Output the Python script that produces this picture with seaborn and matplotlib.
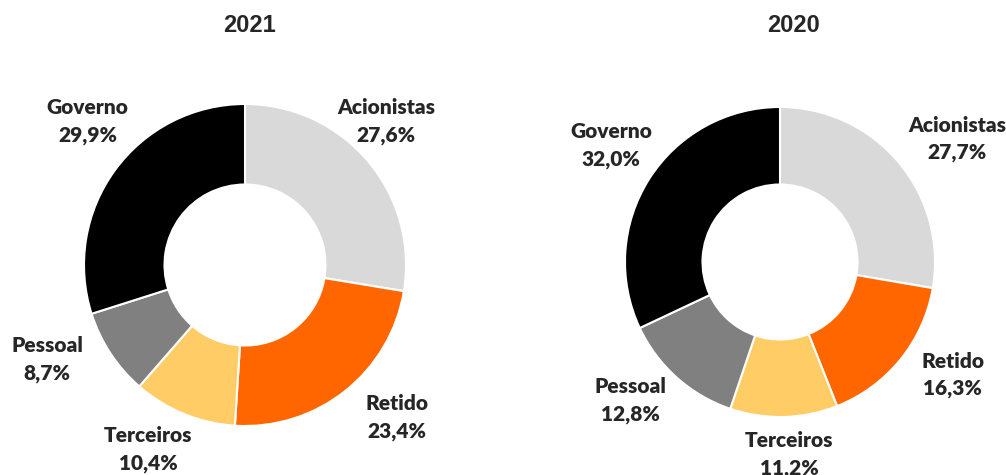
import matplotlib
matplotlib.use("Agg")
import matplotlib.pyplot as plt
import numpy as np
import seaborn as sns

categories = ["Acionistas", "Retido", "Terceiros", "Pessoal", "Governo"]
values_2021 = [27.6, 23.4, 10.4, 8.7, 29.9]
values_2020 = [27.7, 16.3, 11.2, 12.8, 32.0]
years = ["2021", "2020"]
colors = sns.color_palette(["#D9D9D9", "#FF6600", "#FFCC66", "#808080", "#000000"])

sns.set_style("white")
plt.rcParams["font.family"] = ["Liberation Sans", "DejaVu Sans"]

fig = plt.figure(figsize=(10.06, 4.75), dpi=100)
W, H = 1006, 475

# (center x, center y from top, radius, title x) in pixels
layout = [(245, 265, 161, 250), (780, 262, 155, 793)]
# small label nudges (pixels, x right / y up) to mimic the spreadsheet placement
nudges = [
    [(-21, 6), (20, 14), (-16, 12), (-20, 22), (14, 18)],
    [(21, -9), (14, 16), (4, 12), (-13, 14), (4, 7)],
]


def donut(ax, values, title, tx, nudge):
    wedges, _ = ax.pie(values, colors=colors, startangle=90, counterclock=False,
                       radius=1, wedgeprops=dict(width=0.5, edgecolor="white", linewidth=1.5))
    for w, cat, v, (dx, dy) in zip(wedges, categories, values, nudge):
        ang = np.deg2rad((w.theta1 + w.theta2) / 2)
        r = 1.32
        ax.annotate(f"{cat}\n{v:.1f}%".replace(".", ","),
                    xy=(r * np.cos(ang), r * np.sin(ang)), xytext=(dx, dy),
                    textcoords="offset pixels", annotation_clip=False,
                    ha="center", va="center", fontsize=15, fontweight="heavy",
                    family=["Lato", "DejaVu Sans"], linespacing=1.5)
    ax.set_xlim(-1, 1)
    ax.set_ylim(-1, 1)
    ax.axis("off")
    fig.text(tx / W, 1 - 26 / H, title, ha="center", va="center",
             fontsize=17, fontweight="bold")


for (cx, cy, r, tx), vals, yr, nd in zip(layout, [values_2021, values_2020], years, nudges):
    yb = H - cy
    ax = fig.add_axes([(cx - r) / W, (yb - r) / H, 2 * r / W, 2 * r / H])
    donut(ax, vals, yr, tx, nd)

fig.savefig("out.png", dpi=100)
